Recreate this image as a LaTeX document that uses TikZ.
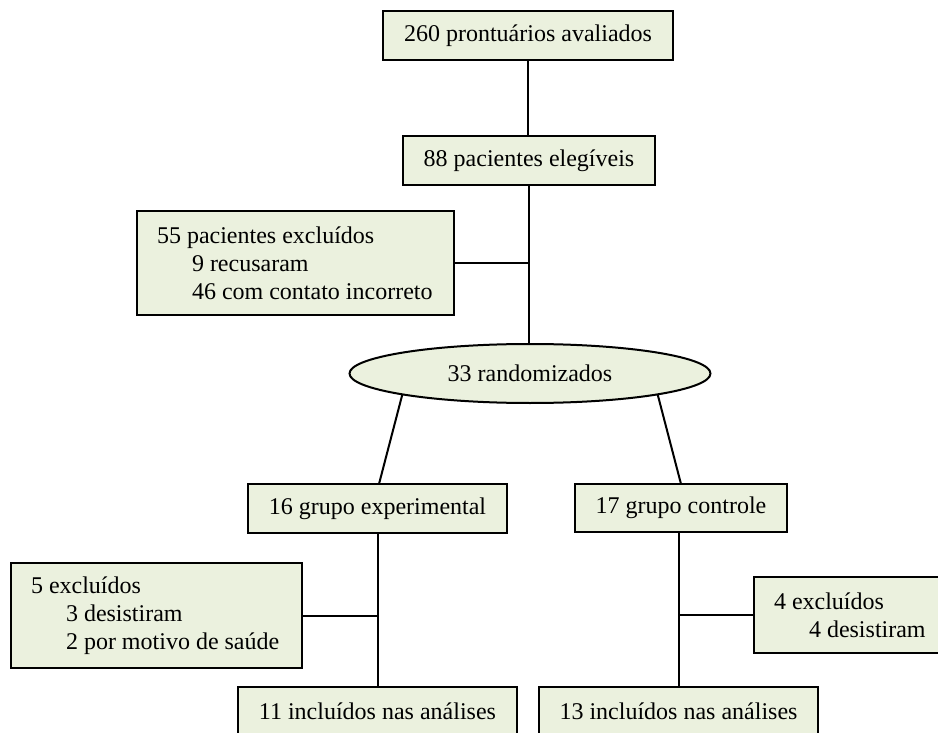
\documentclass[tikz,border=0pt]{standalone}
\usepackage{fontspec}
\setmainfont{Liberation Serif}
\usetikzlibrary{shapes.geometric}
\definecolor{boxfill}{HTML}{EBF1DE}
\tikzset{
  box/.style={draw=black, line width=2pt, fill=boxfill, rectangle, inner sep=0pt, outer sep=0pt,
    font=\fontsize{24}{28}\selectfont, align=center},
  listbox/.style={box, align=flush left, inner xsep=20pt},
  conn/.style={draw=black, line width=2pt},
}
\newcommand{\ind}{\hspace*{35pt}}
\begin{document}
\begin{tikzpicture}[x=1pt,y=-1pt]
\useasboundingbox (0,0) rectangle (938,733);
\clip (0,0) rectangle (938,733);
\fill[white] (0,0) rectangle (938,733);

\node[box, minimum width=290pt, minimum height=49pt] (top) at (528,35.5) {260 prontuários avaliados};
\node[box, minimum width=252pt, minimum height=49pt] (elig) at (529,160.5) {88 pacientes elegíveis};
\node[listbox, text width=277pt, minimum height=104pt] (excl1) at (295.5,263)
  {\mbox{55 pacientes excluídos}\\\mbox{\ind 9 recusaram}\\\mbox{\ind 46 com contato incorreto}};
\node[box, ellipse, minimum width=361pt, minimum height=59pt] (rand) at (530,373.5) {33 randomizados};
\node[box, minimum width=259pt, minimum height=49pt] (g16) at (377.5,508.5) {16 grupo experimental};
\node[box, minimum width=212pt, minimum height=48pt] (g17) at (681,508) {17 grupo controle};
\node[listbox, text width=251pt, minimum height=105pt] (excl2) at (156.5,615.5)
  {\mbox{5 excluídos}\\\mbox{\ind 3 desistiram}\\\mbox{\ind 2 por motivo de saúde}};
\node[listbox, text width=151pt, minimum height=76pt] (excl3) at (849.5,615)
  {\mbox{4 excluídos}\\\mbox{\ind 4 desistiram}};
\node[box, minimum width=279pt, minimum height=49pt] (inc11) at (377.5,711.5) {11 incluídos nas análises};
\node[box, minimum width=279pt, minimum height=49pt] (inc13) at (678.5,711.5) {13 incluídos nas análises};

\coordinate (g16in) at (379,484);

\draw[conn] (top.south) -- (top.south |- elig.north);
\draw[conn] (elig.south) -- (elig.south |- rand.north);
\draw[conn] (excl1.east) -- (excl1.east -| elig.south);
\draw[conn] (rand.south west) -- (g16in);
\draw[conn] (rand.south east) -- (g17.north);
\draw[conn] (g16.south) -- (g16.south |- inc11.north);
\draw[conn] (excl2.east) -- (excl2.east -| g16.south);
\draw[conn] (inc13.north |- g17.south) -- (inc13.north);
\draw[conn] (excl3.west) -- (excl3.west -| inc13.north);
\end{tikzpicture}
\end{document}
